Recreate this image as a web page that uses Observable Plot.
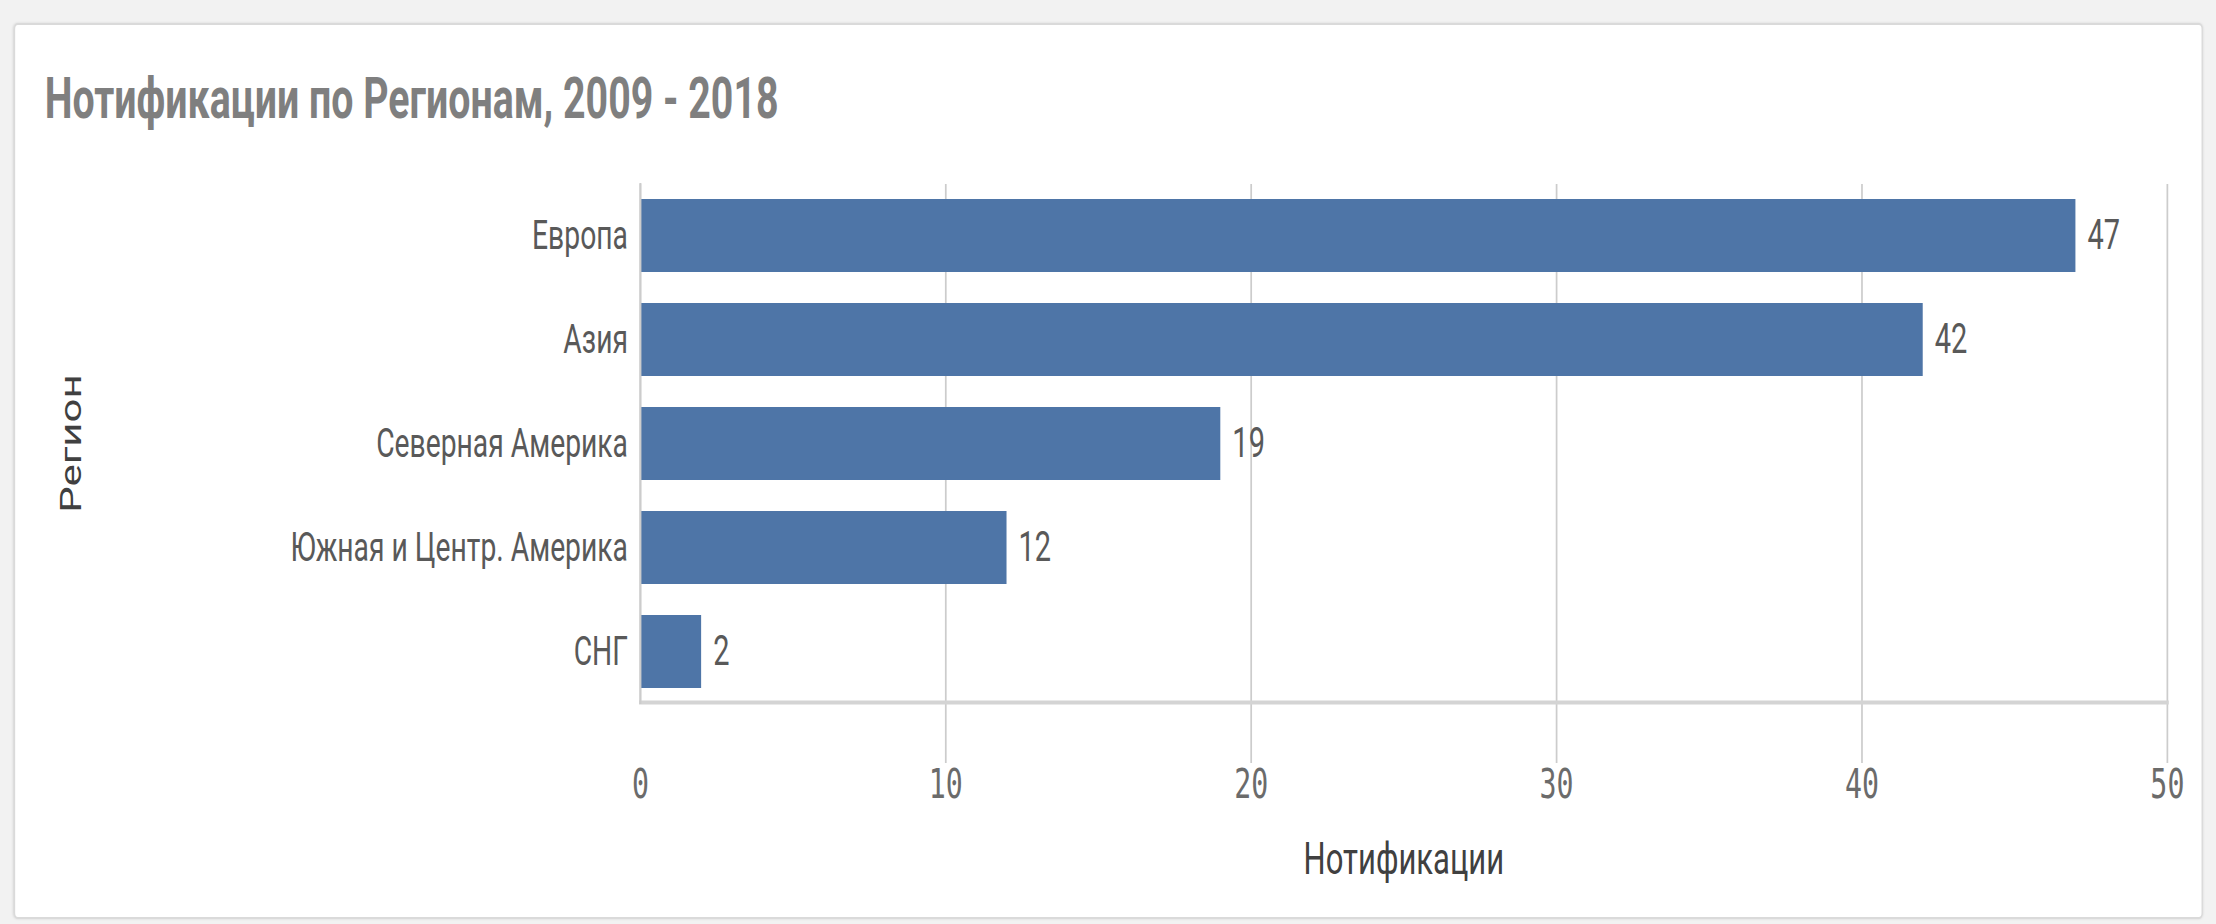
<!DOCTYPE html>
<html>
<head>
<meta charset="utf-8">
<script src="https://cdn.jsdelivr.net/npm/d3@7"></script>
<script src="https://cdn.jsdelivr.net/npm/@observablehq/plot@0.6"></script>
<style>
  html, body { margin: 0; padding: 0; }
  body { background: #f2f2f2; width: 2216px; height: 924px; overflow: hidden; position: relative; }
  #stage { position: absolute; left: 0; top: 0; width: 3213px; height: 924px; transform: scaleX(0.6897); transform-origin: 0 0; }
  #card { position: absolute; left: 20px; top: 23px; width: 3174px; height: 896px; background: #fff;
          border: 2px solid #dadada; border-radius: 6px; box-shadow: 0 0 3px rgba(0,0,0,0.12); box-sizing: border-box; }
  #title { position: absolute; left: 65px; top: 70px; font-family: Roboto, "Noto Sans", sans-serif; font-weight: 700;
           font-size: 57px; line-height: 57px; color: #7f7f7f; white-space: nowrap; }
  #chart { position: absolute; left: 0; top: 140px; }
</style>
</head>
<body>
<div id="stage">
  <div id="card"></div>
  <div id="title">Нотификации по Регионам, 2009 - 2018</div>
  <div id="chart"></div>
</div>
<script>
const regions = ["Европа", "Азия", "Северная Америка", "Южная и Центр. Америка", "СНГ"];
const counts = [47, 42, 19, 12, 2];
const xTicks = [0, 10, 20, 30, 40, 50];
const xLabel = "Нотификации";
const yLabel = "Регион";

const data = regions.map((r, i) => ({region: r, count: counts[i]}));
const VW = 3213;

const chart = Plot.plot({
  width: VW,
  height: 760,
  marginLeft: 928,
  marginRight: 71,
  marginTop: 44,
  marginBottom: 198,
  style: {background: "transparent", fontFamily: "Roboto, 'Noto Sans', sans-serif", overflow: "visible"},
  x: {domain: [0, 50]},
  y: {domain: regions, paddingInner: 0.3, paddingOuter: 0.12},
  marks: [
    Plot.gridX(xTicks, {stroke: "#cccccc", strokeOpacity: 1, strokeWidth: 2.5}),
    Plot.axisX(xTicks.slice(1), {tickSize: 61, text: null, stroke: "#cccccc", strokeWidth: 2.5, label: null}),
    Plot.axisX(xTicks, {tickSize: 0, tickPadding: 66, fontSize: 41, fontFamily: "'DejaVu Sans Mono', monospace", fill: "#6b6b6b", label: null}),
    Plot.barX(data, {y: "region", x: "count", fill: "#4e75a7"}),
    Plot.text(data, {y: "region", x: "count", text: d => String(d.count), textAnchor: "start", dx: 17, fontSize: 42, fill: "#595959"}),
    Plot.axisY({tickSize: 0, tickPadding: 18, fontSize: 41, fill: "#595959", label: null}),
    Plot.frame({anchor: "bottom", stroke: "#d4d4d4", strokeWidth: 4}),
    Plot.frame({anchor: "left", stroke: "#cccccc", strokeWidth: 3}),
    Plot.text([xLabel], {frameAnchor: "bottom", dy: 171, fontSize: 45, fill: "#404040"}),
    Plot.text([yLabel], {frameAnchor: "left", rotate: -90, textAnchor: "middle", lineAnchor: "middle", dx: -824, fontSize: 42, fill: "#404040"})
  ]
});
document.getElementById("chart").appendChild(chart);
</script>
</body>
</html>
